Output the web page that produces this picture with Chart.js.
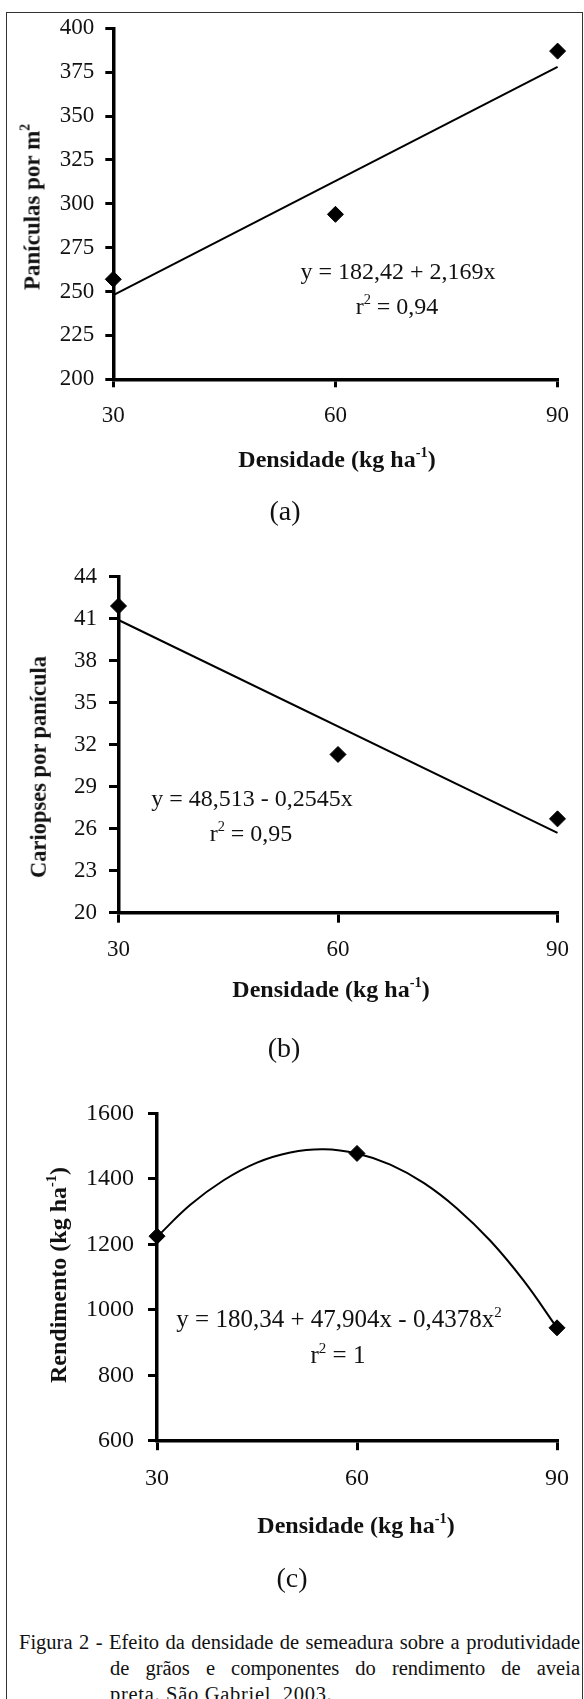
<!DOCTYPE html>
<html><head><meta charset="utf-8">
<script src="https://cdn.jsdelivr.net/npm/chart.js@4"></script>
<style>
html,body{margin:0;padding:0;background:#fff;}
body{width:584px;height:1699px;position:relative;overflow:hidden;font-family:"Liberation Serif","Times New Roman",serif;color:#111;}
#frame{position:absolute;left:6px;top:12px;width:577px;height:1740px;border:1.5px solid #333;box-sizing:border-box;}
.cv{position:absolute;left:0;}
.t{position:absolute;white-space:nowrap;transform:translate(-50%,-50%);font-size:24px;line-height:1;}
.t sup{font-size:0.6em;vertical-align:0;position:relative;top:-0.7em;}
.ti{position:absolute;white-space:nowrap;font-weight:bold;font-size:24px;line-height:1;}
.ti sup{font-size:0.6em;vertical-align:0;position:relative;top:-0.7em;}
.yt{transform:translate(-50%,-50%) rotate(-90deg);}
.xt{transform:translate(-50%,-50%);}
.lab{font-size:28px;}
.cap{position:absolute;font-size:20.5px;white-space:nowrap;line-height:1;}
.just{text-align:justify;text-align-last:justify;}
</style></head>
<body>
<div id="frame"></div>
<canvas id="ca" class="cv" width="584" height="480" style="top:0px"></canvas>
<canvas id="cb" class="cv" width="584" height="520" style="top:540px"></canvas>
<canvas id="cc" class="cv" width="584" height="470" style="top:1080px"></canvas>

<div class="ti yt" style="left:32px;top:207px;font-size:23px">Panículas por m<sup>2</sup></div>
<div class="ti xt" style="left:337px;top:459px">Densidade (kg ha<sup>-1</sup>)</div>
<div class="t" style="left:398px;top:271px">y = 182,42 + 2,169x</div>
<div class="t" style="left:397px;top:306px">r<sup>2</sup> = 0,94</div>
<div class="t lab" style="left:285px;top:511px">(a)</div>

<div class="ti yt" style="left:39px;top:767px;font-size:22.5px">Cariopses por panícula</div>
<div class="ti xt" style="left:331px;top:989px">Densidade (kg ha<sup>-1</sup>)</div>
<div class="t" style="left:252px;top:798px">y = 48,513 - 0,2545x</div>
<div class="t" style="left:251px;top:833px">r<sup>2</sup> = 0,95</div>
<div class="t lab" style="left:284px;top:1048px">(b)</div>

<div class="ti yt" style="left:58px;top:1275px">Rendimento (kg ha<sup>-1</sup>)</div>
<div class="ti xt" style="left:356px;top:1525px">Densidade (kg ha<sup>-1</sup>)</div>
<div class="t" style="left:339px;top:1318px;font-size:25px">y = 180,34 + 47,904x - 0,4378x<sup>2</sup></div>
<div class="t" style="left:338px;top:1354px;font-size:25px">r<sup>2</sup> = 1</div>
<div class="t lab" style="left:292px;top:1578px">(c)</div>

<div class="cap just" style="left:19px;top:1632px;width:561px">Figura 2 - Efeito da densidade de semeadura sobre a produtividade</div>
<div class="cap just" style="left:110px;top:1658px;width:470px">de grãos e componentes do rendimento de aveia</div>
<div class="cap" style="left:110px;top:1684px;letter-spacing:0.7px">preta. São Gabriel, 2003.</div>

<script>
// ---- data ----
const densidade = [30, 60, 90];
const xTickLabels = [30, 60, 90];

const paniculas = [257, 294, 387];
const paniculasFitX = [30, 90];
const paniculasFit = [248, 378];
const paniculasTicks = [200, 225, 250, 275, 300, 325, 350, 375, 400];

const cariopses = [41.9, 31.3, 26.7];
const cariopsesFitX = [30, 90];
const cariopsesFit = [40.9, 25.7];
const cariopsesTicks = [20, 23, 26, 29, 32, 35, 38, 41, 44];

const rendimento = [1225, 1478, 945];
const rendimentoFitX = [30, 35, 40, 45, 50, 55, 60, 65, 70, 75, 80, 85, 90];
const rendimentoFit = [1223, 1321, 1396, 1450, 1481, 1491, 1478, 1444, 1388, 1310, 1211, 1089, 945];
const rendimentoTicks = [600, 800, 1000, 1200, 1400, 1600];

const F = '"Liberation Serif", "Times New Roman", serif';

function panel(id, o) {
  const pts = o.x.map((x, i) => ({x: x, y: o.y[i]}));
  const fit = o.fx.map((x, i) => ({x: x, y: o.fy[i]}));
  new Chart(document.getElementById(id), {
    type: 'scatter',
    data: {datasets: [
      {type: 'line', data: fit, borderColor: '#000', borderWidth: 2, pointRadius: 0,
       tension: o.tension || 0, fill: false, clip: false, order: 2},
      {type: 'scatter', data: pts, pointStyle: 'rectRot', pointRadius: 8, pointHoverRadius: 8,
       backgroundColor: '#000', borderColor: '#000', borderWidth: 1, clip: false, order: 1}
    ]},
    options: {
      responsive: false, animation: false, events: [],
      layout: {padding: {left: 0, top: o.pt, right: o.pr, bottom: o.pb}},
      plugins: {legend: {display: false}, tooltip: {enabled: false}},
      scales: {
        x: {
          type: 'linear', position: 'bottom', min: 30, max: 90,
          afterBuildTicks: s => { s.ticks = xTickLabels.map(v => ({value: v})); },
          afterFit: s => { s.height = o.xh; },
          grid: {display: true, drawOnChartArea: false, drawTicks: true, tickLength: o.xtl, color: '#000', lineWidth: 3},
          border: {display: true, color: '#000', width: 3.5},
          ticks: {color: '#111', font: {family: F, size: o.fs}, padding: o.xpad, maxRotation: 0, autoSkip: false,
                  callback: v => String(v)}
        },
        y: {
          type: 'linear', position: 'left', min: o.ticks[0], max: o.ticks[o.ticks.length - 1],
          afterBuildTicks: s => { s.ticks = o.ticks.map(v => ({value: v})); },
          afterFit: s => { s.width = o.yw; },
          grid: {display: true, drawOnChartArea: false, drawTicks: true, tickLength: o.ytl, color: '#000', lineWidth: 3},
          border: {display: true, color: '#000', width: 3.5},
          ticks: {color: '#111', font: {family: F, size: o.fs}, padding: o.ypad, autoSkip: false,
                  callback: v => String(v)}
        }
      }
    }
  });
}

panel('ca', {x: densidade, y: paniculas, fx: paniculasFitX, fy: paniculasFit, ticks: paniculasTicks,
  pt: 28.3, pr: 23, pb: 6.6, xh: 94.1, yw: 113.3,
  xtl: 8, xpad: 14.9, ytl: 8, ypad: 11, fs: 23});

panel('cb', {x: densidade, y: cariopses, fx: cariopsesFitX, fy: cariopsesFit, ticks: cariopsesTicks,
  pt: 36.6, pr: 26.5, pb: 56.6, xh: 90.7, yw: 118.5,
  xtl: 10, xpad: 13.5, ytl: 9.5, ypad: 12, fs: 23});

panel('cc', {x: densidade, y: rendimento, fx: rendimentoFitX, fy: rendimentoFit, ticks: rendimentoTicks,
  pt: 33.5, pr: 27, pb: 12.6, xh: 96.7, yw: 157,
  xtl: 9.5, xpad: 13.8, ytl: 9, ypad: 14, fs: 24, tension: 0.4});
</script>
</body></html>
